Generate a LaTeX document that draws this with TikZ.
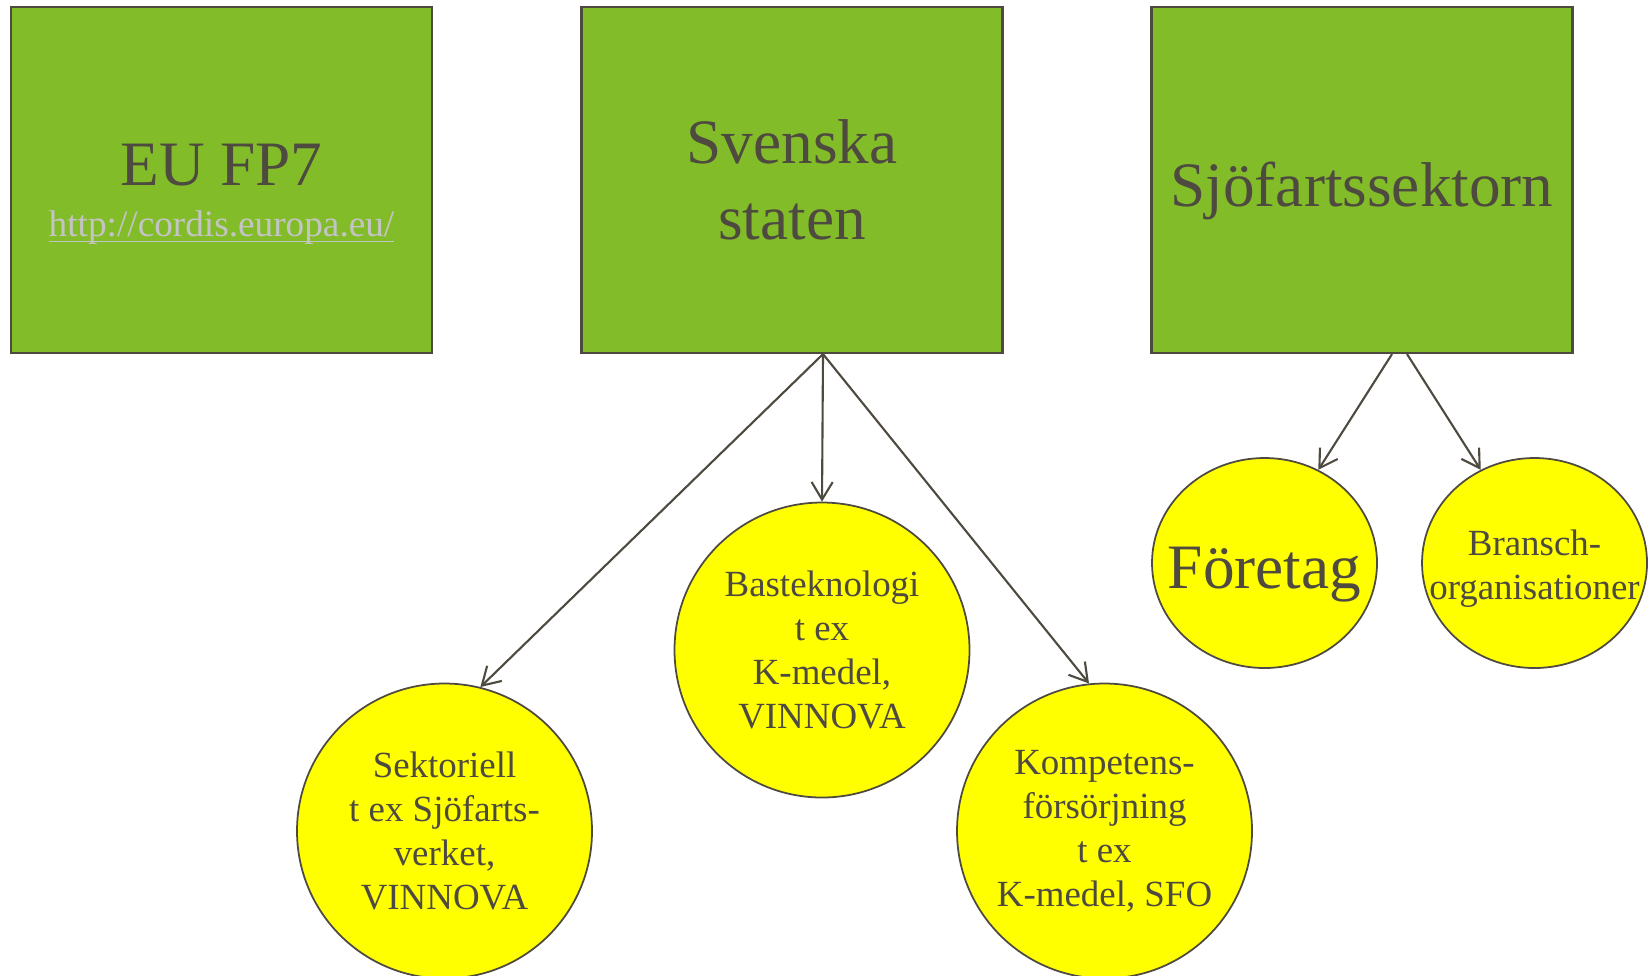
\documentclass[tikz,border=0pt]{standalone}
\usepackage{fontspec}
\setmainfont{Liberation Serif}
\usepackage{xcolor}
\usetikzlibrary{shapes.geometric,arrows.meta}
\definecolor{boxgreen}{RGB}{130,189,41}
\definecolor{discyellow}{RGB}{255,255,0}
\definecolor{inkgray}{RGB}{78,74,64}
\definecolor{linkgray}{RGB}{196,196,196}
\tikzset{>={Straight Barb[length=5pt,width=6pt]}}

\begin{document}
\begin{tikzpicture}[
    box/.style={draw=inkgray, line width=0.6pt, fill=boxgreen, minimum width=4.21cm, minimum height=3.46cm,
      inner sep=1pt, align=center, text=inkgray, font=\fontsize{18}{21.6}\selectfont},
    disc/.style={draw=inkgray, line width=0.5pt, fill=discyellow, circle, minimum size=2.95cm,
      inner sep=0pt, align=center, text=inkgray, font=\fontsize{10.5}{12.5}\selectfont},
    oval/.style={draw=inkgray, line width=0.5pt, fill=discyellow, ellipse, minimum width=2.25cm,
      minimum height=2.1cm, inner sep=0pt},
    arr/.style={draw=inkgray, line width=0.6pt, ->}
  ]
    \useasboundingbox (0, 0) rectangle (16.52, -9.75);
    \clip (0, 0) rectangle (16.52, -9.75);
    \node[box] (eu) at (2.215, -1.80) {\rule{0pt}{19.5pt}EU FP7\\[-7pt]{\fontsize{10.6}{12.7}\selectfont\color{linkgray}\underline{\smash{http://cordis.europa.eu/}}}};
    \node[box] (svenska) at (7.92, -1.80) {Svenska\\staten};
    \node[box] (sjofart) at (13.62, -1.80) {\rule{0pt}{18.8pt}Sjöfartssektorn};
    \node[disc] (sekt) at (4.445, -8.31) {Sektoriell\\t ex Sjöfarts-\\verket,\\VINNOVA};
    \node[disc] (bas) at (8.22, -6.50) {Basteknologi\\t ex\\K-medel,\\VINNOVA};
    \node[disc] (komp) at (11.045, -8.31) {Kompetens-\\försörjning\\t ex\\K-medel, SFO};
    \node[oval] (foretag) at (12.645, -5.63) {};
    \node[text=inkgray, font=\fontsize{18}{21.6}\selectfont] (foretagtext) at ([yshift=-0.12cm]foretag) {Företag};
    \node[oval] (bransch) at (15.345, -5.63) {};
    \node[text=inkgray, align=center, font=\fontsize{10.5}{12.5}\selectfont] (branschtext) at ([yshift=-0.06cm]bransch) {Bransch-\\organisationer};
    \draw[arr] ([xshift=0.31cm]svenska.south) -- (sekt.76);
    \draw[arr] ([xshift=0.31cm]svenska.south) -- (bas.north);
    \draw[arr] ([xshift=0.31cm]svenska.south) -- (komp.96);
    \draw[arr] ([xshift=0.30cm]sjofart.south) -- (foretag.60);
    \draw[arr] ([xshift=0.45cm]sjofart.south) -- (bransch.120);
  \end{tikzpicture}
\end{document}
